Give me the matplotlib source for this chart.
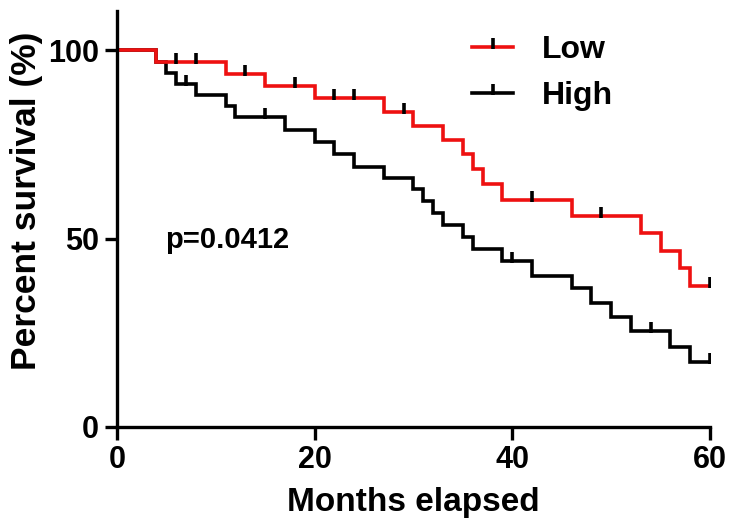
import matplotlib
matplotlib.use("Agg")
import matplotlib.pyplot as plt
import numpy as np
from matplotlib.path import Path
from matplotlib.lines import Line2D

plt.rcParams['font.family'] = ['Liberation Sans', 'DejaVu Sans']
plt.rcParams['font.weight'] = 'bold'

# Kaplan-Meier steps (months, percent survival)
low_t = [0, 4, 11, 15, 20, 27, 30, 33, 35, 36, 37, 39, 46, 53, 55, 57, 58, 60]
low_s = [100, 96.9, 93.8, 90.6, 87.3, 83.6, 80.0, 76.2, 72.5, 68.6, 64.5, 60.3,
         56.1, 51.5, 46.8, 42.1, 37.4, 37.4]
low_censor = [6, 8, 13, 18, 22, 24, 29, 42, 49, 60]

high_t = [0, 4, 5, 6, 8, 11, 12, 17, 20, 22, 24, 27, 30, 31, 32, 33, 35, 36,
          39, 42, 46, 48, 50, 52, 56, 58, 60]
high_s = [100, 96.9, 94.0, 91.1, 88.2, 85.2, 82.2, 78.9, 75.8, 72.4, 69.1, 66.2,
          63.2, 60.1, 56.8, 53.7, 50.4, 47.3, 44.1, 40.0, 36.8, 32.9, 29.1,
          25.5, 21.3, 17.2, 17.2]
high_censor = [7, 15, 40, 54, 60]

p_text = "p=0.0412"
red = '#ee1111'

# censor mark: short vertical stroke sitting mostly above the curve
tick = Path([(0, -0.25), (0, 1)], [Path.MOVETO, Path.LINETO])


def surv_at(t, times, surv):
    idx = np.searchsorted(times, t, side='right') - 1
    return np.asarray(surv)[idx]


fig = plt.figure(figsize=(7.35, 5.27), dpi=100)
ax = fig.add_axes([0.159, 0.19, 0.807, 0.79])

for times, surv, cens, col in [(high_t, high_s, high_censor, 'black'),
                               (low_t, low_s, low_censor, red)]:
    ax.step(times, surv, where='post', color=col, lw=2.6, solid_joinstyle='miter')
    ax.plot(cens, surv_at(cens, times, surv), ls='none', marker=tick,
            ms=13, mew=2.6, mec='black')

ax.set_xlim(0, 60)
ax.set_ylim(0, 110.6)
ax.set_xticks([0, 20, 40, 60])
ax.set_yticks([0, 50, 100])
ax.tick_params(axis='both', labelsize=22, width=2.4, length=9, pad=4)
for sp in ['top', 'right']:
    ax.spines[sp].set_visible(False)
for sp in ['left', 'bottom']:
    ax.spines[sp].set_linewidth(2.4)
ax.set_xlabel("Months elapsed", fontsize=24, fontweight='bold', labelpad=9)
ax.set_ylabel("Percent survival (%)", fontsize=25.5, fontweight='bold', va='center')
ax.yaxis.set_label_coords(-0.152, 0.542)

ax.text(4.9, 49.6, p_text, fontsize=21, fontweight='bold', ha='left', va='center')

handles = [Line2D([], [], color=red, lw=2.6, marker=tick, ms=13, mew=2.6, mec='black'),
           Line2D([], [], color='black', lw=2.6, marker=tick, ms=13, mew=2.6, mec='black')]
ax.legend(handles, ['Low', 'High'], loc='upper left', bbox_to_anchor=(0.55, 1.01),
          frameon=False, fontsize=23, numpoints=1, handlelength=1.3,
          handletextpad=0.9, labelspacing=0.5)

fig.savefig("out.png", dpi=100)
